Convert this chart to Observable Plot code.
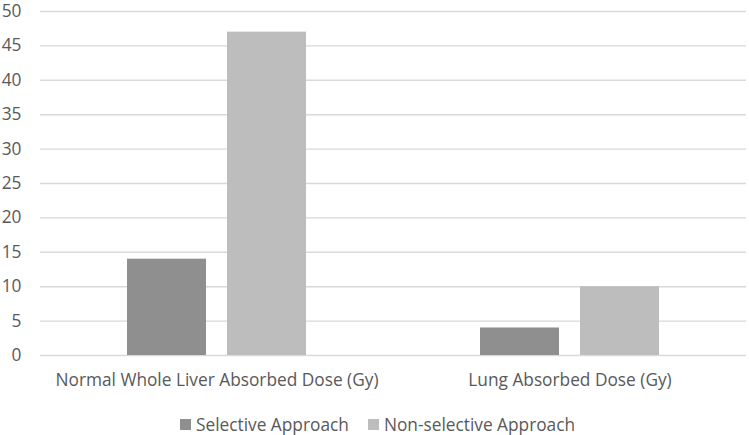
<!DOCTYPE html>
<html>
<head>
<meta charset="utf-8">
<script src="https://cdn.jsdelivr.net/npm/d3@7"></script>
<script src="https://cdn.jsdelivr.net/npm/@observablehq/plot@0.6"></script>
<style>
  html, body { margin: 0; padding: 0; background: #fff; }
  #chart { width: 749px; }
  .legend {
    display: flex; align-items: center; height: 36px;
    padding-left: 180px; padding-top: 12px; box-sizing: border-box;
    font-family: "Open Sans", sans-serif; font-size: 17.3px; color: #595959;
  }
  .legend .item { display: flex; align-items: center; margin-right: 19px; }
  .legend .swatch { width: 11px; height: 11px; margin-right: 5px; }
</style>
</head>
<body>
<div id="chart"></div>
<script>
// Absorbed dose by target, two treatment approaches
const categories = ["Normal Whole Liver Absorbed Dose (Gy)", "Lung Absorbed Dose (Gy)"];
const seriesNames = ["Selective Approach", "Non-selective Approach"];
const selective = [14, 4];
const nonSelective = [47, 10];
const seriesColors = ["#8f8f8f", "#bdbdbd"];
const yTicks = [0, 5, 10, 15, 20, 25, 30, 35, 40, 45, 50];

const rows = categories.flatMap((c, i) => [
  {category: c, series: seriesNames[0], value: selective[i]},
  {category: c, series: seriesNames[1], value: nonSelective[i]}
]);

const font = '"Open Sans", sans-serif';

const chart = Plot.plot({
  width: 749,
  height: 400,
  marginLeft: 40,
  marginRight: 3,
  marginTop: 11,
  marginBottom: 45,
  style: {fontFamily: font, fontSize: "17.3px", color: "#595959", background: "#fff", overflow: "visible"},
  fx: {domain: categories, padding: 0, label: null},
  x: {domain: seriesNames, axis: null, paddingInner: 0.214, paddingOuter: 0.872},
  y: {domain: [0, 50], label: null},
  color: {domain: seriesNames, range: seriesColors},
  marks: [
    Plot.gridY(yTicks, {stroke: "#d9d9d9", strokeOpacity: 1, strokeWidth: 1.4}),
    Plot.axisY(yTicks, {tickSize: 0, tickPadding: 19, label: null, fontSize: 17.3}),
    Plot.axisFx({anchor: "bottom", tickSize: 0, tickPadding: 18, label: null, fontSize: 17.3}),
    Plot.barY(rows, {fx: "category", x: "series", y: "value", fill: "series"})
  ]
});
document.getElementById("chart").appendChild(chart);

// Legend beneath the plot
const legend = document.createElement("div");
legend.className = "legend";
seriesNames.forEach((name, i) => {
  const item = document.createElement("div");
  item.className = "item";
  const sw = document.createElement("span");
  sw.className = "swatch";
  sw.style.background = seriesColors[i];
  const label = document.createElement("span");
  label.textContent = name;
  item.append(sw, label);
  legend.appendChild(item);
});
document.getElementById("chart").appendChild(legend);
</script>
</body>
</html>
